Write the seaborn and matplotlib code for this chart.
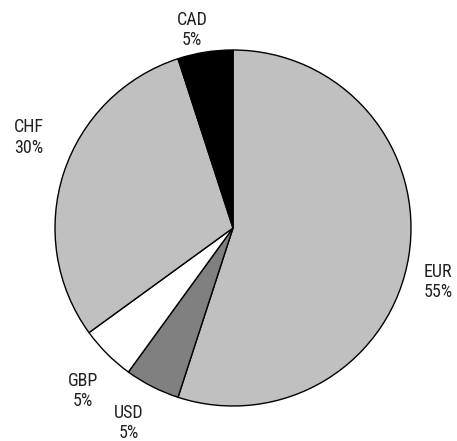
import matplotlib
matplotlib.use("Agg")
import matplotlib.pyplot as plt
import seaborn as sns

# Currency allocation shares, clockwise from 12 o'clock
currencies = ["EUR", "USD", "GBP", "CHF", "CAD"]
shares = [55, 5, 5, 30, 5]
slice_colors = ["#c0c0c0", "#808080", "#ffffff", "#c0c0c0", "#000000"]

# Small nudges (in pixels, right/down) applied to each label after placement
label_nudge_px = {"EUR": (-4, 21), "USD": (-8, 6), "GBP": (0, 13),
                  "CHF": (-3, -25), "CAD": (-8, 11)}

sns.set_theme(style="white")
plt.rcParams["font.family"] = ["Roboto Condensed", "DejaVu Sans Condensed", "DejaVu Sans"]

W, H = 457, 441
R_PX = 178
fig = plt.figure(figsize=(W / 100, H / 100), dpi=100)
ax = fig.add_axes([55 / W, 35 / H, 2 * R_PX / W, 2 * R_PX / H])

labels = [f"{c}\n{s}%" for c, s in zip(currencies, shares)]
wedges, texts = ax.pie(
    shares,
    labels=labels,
    colors=slice_colors,
    startangle=90,
    counterclock=False,
    labeldistance=1.19,
    wedgeprops=dict(edgecolor="black", linewidth=1.0),
    textprops=dict(fontsize=13, color="#222222", linespacing=1.15),
)
for t, cur in zip(texts, currencies):
    t.set_horizontalalignment("center")
    t.set_verticalalignment("center")
    dx, dy = label_nudge_px[cur]
    x, y = t.get_position()
    t.set_position((x + dx / R_PX, y - dy / R_PX))

ax.set_xlim(-1, 1)
ax.set_ylim(-1, 1)
ax.set_aspect("auto")
ax.axis("off")

fig.savefig("out.png", dpi=100, facecolor="white")
